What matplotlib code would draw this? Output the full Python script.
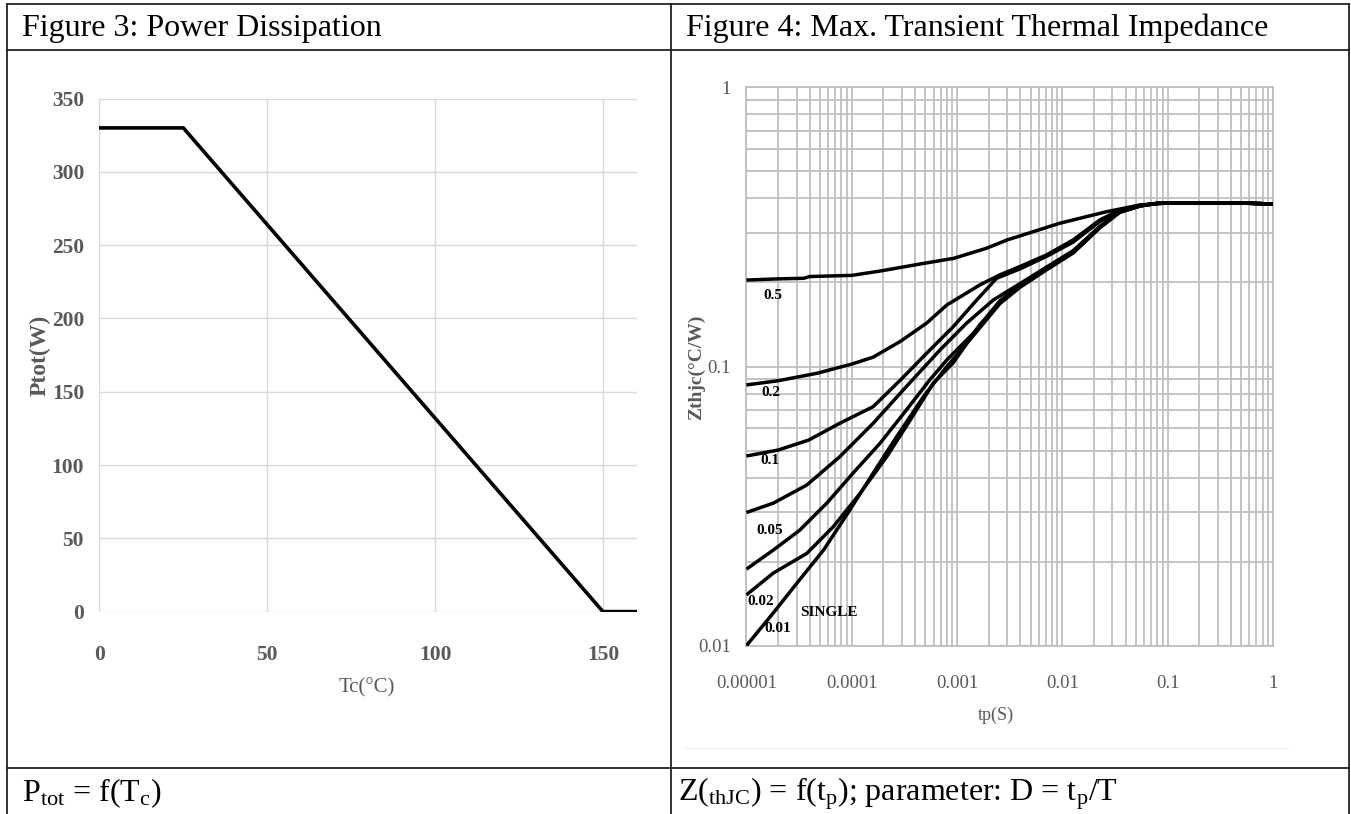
import matplotlib
matplotlib.use("Agg")
import matplotlib.pyplot as plt
from matplotlib.lines import Line2D
from matplotlib.ticker import LogLocator, FixedLocator, NullFormatter, FixedFormatter

plt.rcParams['font.family'] = ['Liberation Serif', 'DejaVu Serif']
plt.rcParams['mathtext.fontset'] = 'custom'
plt.rcParams['mathtext.rm'] = 'Liberation Serif'
plt.rcParams['mathtext.it'] = 'Liberation Serif:italic'
plt.rcParams['mathtext.bf'] = 'Liberation Serif:bold'

# ---------------- Figure 3 data ----------------
tc_values = [0, 25, 150, 160]
ptot_values = [330, 330, 0, 0]
tc_ticks = [0, 50, 100, 150]
ptot_ticks = [0, 50, 100, 150, 200, 250, 300, 350]

# ---------------- Figure 4 data ----------------
tp_d05 = [1e-5, 2e-5, 3.5e-5, 4e-5, 1e-4, 1.9e-4, 4.5e-4, 9.3e-4, 1.9e-3, 3e-3, 9.5e-3, 2.6e-2, 5.5e-2, 0.1, 0.2, 0.5, 1]
z_d05 = [0.204, 0.206, 0.207, 0.210, 0.212, 0.220, 0.233, 0.244, 0.265, 0.284, 0.326, 0.358, 0.379, 0.385, 0.386, 0.385, 0.382]

tp_d02 = [1e-5, 2e-5, 4.7e-5, 1e-4, 1.6e-4, 2.9e-4, 5.15e-4, 8e-4, 1.65e-3, 2.56e-3, 3.96e-3, 7.1e-3, 1.27e-2, 2.28e-2, 3.5e-2, 5.5e-2, 0.08, 0.2, 0.5, 1]
z_d02 = [0.0859, 0.0889, 0.0946, 0.102, 0.108, 0.123, 0.143, 0.166, 0.196, 0.213, 0.228, 0.251, 0.284, 0.335, 0.363, 0.378, 0.384, 0.386, 0.385, 0.382]

tp_d01 = [1e-5, 2e-5, 3.9e-5, 7.7e-5, 1.6e-4, 2.9e-4, 5.15e-4, 9.2e-4, 1.54e-3, 2.38e-3, 4e-3, 7.1e-3, 1.27e-2, 2.28e-2, 3.5e-2, 5.5e-2, 0.08, 0.2, 0.5, 1]
z_d01 = [0.0478, 0.0502, 0.0545, 0.0626, 0.0718, 0.0894, 0.1115, 0.1388, 0.173, 0.207, 0.224, 0.248, 0.279, 0.331, 0.361, 0.377, 0.384, 0.386, 0.385, 0.382]

tp_d005 = [1e-5, 1.8e-5, 3.74e-5, 7.7e-5, 1.6e-4, 3.3e-4, 6.9e-4, 1.23e-3, 2.21e-3, 3.96e-3, 7.1e-3, 1.27e-2, 2.28e-2, 3.5e-2, 5.5e-2, 0.08, 0.2, 0.5, 1]
z_d005 = [0.0300, 0.0324, 0.0376, 0.0475, 0.0626, 0.0847, 0.1146, 0.1428, 0.173, 0.198, 0.227, 0.260, 0.318, 0.358, 0.376, 0.384, 0.386, 0.385, 0.382]

tp_d002 = [1e-5, 1.8e-5, 3.2e-5, 5.8e-5, 1.03e-4, 1.86e-4, 3.3e-4, 5.5e-4, 8e-4, 1.43e-3, 2.56e-3, 3.96e-3, 7.1e-3, 1.27e-2, 2.28e-2, 3.5e-2, 5.5e-2, 0.08, 0.2, 0.5, 1]
z_d002 = [0.0188, 0.0220, 0.0259, 0.0324, 0.0415, 0.0531, 0.0698, 0.0894, 0.1055, 0.1315, 0.172, 0.195, 0.225, 0.257, 0.316, 0.357, 0.376, 0.384, 0.386, 0.385, 0.382]

tp_d001 = [1e-5, 1.8e-5, 3.74e-5, 6.7e-5, 1.2e-4, 2.15e-4, 3.6e-4, 5.95e-4, 9.2e-4, 1.65e-3, 2.56e-3, 3.96e-3, 7.1e-3, 1.27e-2, 2.28e-2, 3.5e-2, 5.5e-2, 0.08, 0.2, 0.5, 1]
z_d001 = [0.0152, 0.0182, 0.0214, 0.0267, 0.0351, 0.0475, 0.0643, 0.0871, 0.103, 0.141, 0.170, 0.193, 0.223, 0.256, 0.315, 0.357, 0.376, 0.384, 0.386, 0.385, 0.382]

tp_single = [1e-5, 1.8e-5, 3e-5, 5.4e-5, 9.6e-5, 1.6e-4, 2.67e-4, 4.8e-4, 8e-4, 1.43e-3, 2.56e-3, 3.96e-3, 7.1e-3, 1.27e-2, 2.28e-2, 3.5e-2, 5.5e-2, 0.08, 0.2, 0.5, 1]
z_single = [0.0100, 0.0131, 0.0167, 0.0220, 0.0306, 0.0415, 0.0560, 0.0779, 0.0998, 0.129, 0.168, 0.192, 0.222, 0.255, 0.314, 0.356, 0.376, 0.384, 0.386, 0.385, 0.382]

curve_label_texts = ["0.5", "0.2", "0.1", "0.05", "0.02", "0.01", "SINGLE"]
curve_label_tp = [1.78e-5, 1.7e-5, 1.67e-5, 1.65e-5, 1.37e-5, 2.0e-5, 6.1e-5]
curve_label_z = [0.180, 0.0804, 0.0462, 0.0258, 0.01434, 0.01157, 0.0132]

tp_ticks = [1e-5, 1e-4, 1e-3, 1e-2, 1e-1, 1]
tp_tick_labels = ["0.00001", "0.0001", "0.001", "0.01", "0.1", "1"]
z_ticks = [0.01, 0.1, 1]
z_tick_labels = ["0.01", "0.1", "1"]

header_left = "Figure 3: Power Dissipation"
header_right = "Figure 4: Max. Transient Thermal Impedance"
footer_left = r"P$_{\mathrm{tot}}$ = f(T$_{\mathrm{c}}$)"
footer_right = r"Z$\mathrm{(_{thJC})}$ = f(t$_{\mathrm{p}}$); parameter: D = t$_{\mathrm{p}}$/T"

# ---------------- Figure ----------------
W, H = 1351, 814
fig = plt.figure(figsize=(W / 100, H / 100), dpi=100)
fig.patch.set_facecolor("white")


def fx(px):
    return px / W


def fy(py):
    return 1 - py / H


# table lines
table_color = "#222222"
for (x0, y0, x1, y1) in [(7, 4, 1349, 4), (7, 50, 1349, 50), (7, 768, 1349, 768),
                         (7, 4, 7, 814), (671, 4, 671, 814), (1349, 4, 1349, 814)]:
    fig.add_artist(Line2D([fx(x0), fx(x1)], [fy(y0), fy(y1)], color=table_color, lw=1.3,
                          transform=fig.transFigure))
# faint chart-area border in right cell
fig.add_artist(Line2D([fx(686), fx(1287)], [fy(748), fy(748)], color="#f0f0f0", lw=1,
                      transform=fig.transFigure))

fig.text(fx(22), fy(36), header_left, fontsize=23, ha="left", va="baseline", color="black")
fig.text(fx(686), fy(36), header_right, fontsize=23, ha="left", va="baseline", color="black")
fig.text(fx(22), fy(801), footer_left, fontsize=23, ha="left", va="baseline", color="black")
fig.text(fx(678), fy(801), footer_right, fontsize=23, ha="left", va="baseline", color="black")

tick_gray = "#595959"

# ---------------- Left chart ----------------
axL = fig.add_axes([fx(99.4), fy(611.6), fx(636.5) - fx(99.4), fy(98.6) - fy(611.6)])
axL.plot(tc_values, ptot_values, color="black", lw=2.6, solid_joinstyle="miter", zorder=3)
axL.set_xlim(0, 160)
axL.set_ylim(0, 350)
axL.set_xticks(tc_ticks)
axL.set_yticks(ptot_ticks)
axL.grid(True, color="#d9d9d9", lw=1.0)
for s in axL.spines.values():
    s.set_visible(False)
axL.tick_params(length=0, labelsize=15.5, colors=tick_gray)
axL.tick_params(axis="x", pad=24)
axL.tick_params(axis="y", pad=11)
for lab in axL.get_xticklabels() + axL.get_yticklabels():
    lab.set_fontweight("bold")
axL.text(-0.111, 0.5, "Ptot(W)", transform=axL.transAxes, rotation=90, ha="center", va="center",
         fontsize=17, fontweight="bold", color=tick_gray)
axL.text(0.498, -0.149, "Tc(°C)", transform=axL.transAxes, ha="center", va="center",
         fontsize=15, color=tick_gray)

# ---------------- Right chart ----------------
axR = fig.add_axes([fx(746.4), fy(645.7), fx(1272.8) - fx(746.4), fy(87.3) - fy(645.7)])
curves = [(tp_d05, z_d05), (tp_d02, z_d02), (tp_d01, z_d01), (tp_d005, z_d005),
          (tp_d002, z_d002), (tp_d001, z_d001), (tp_single, z_single)]
for tp, z in curves:
    axR.plot(tp, z, color="black", lw=2.5, zorder=3, solid_capstyle="butt")
axR.set_xscale("log")
axR.set_yscale("log")
axR.set_xlim(1e-5, 1)
axR.set_ylim(0.01, 1)
axR.xaxis.set_major_locator(FixedLocator(tp_ticks))
axR.xaxis.set_major_formatter(FixedFormatter(tp_tick_labels))
axR.yaxis.set_major_locator(FixedLocator(z_ticks))
axR.yaxis.set_major_formatter(FixedFormatter(z_tick_labels))
axR.xaxis.set_minor_locator(LogLocator(base=10, subs=range(2, 10), numticks=20))
axR.yaxis.set_minor_locator(LogLocator(base=10, subs=range(2, 10), numticks=20))
axR.xaxis.set_minor_formatter(NullFormatter())
axR.yaxis.set_minor_formatter(NullFormatter())
axR.grid(True, which="both", color="#bfbfbf", lw=1.3)
for s in axR.spines.values():
    s.set_color("#bfbfbf")
    s.set_linewidth(1.3)
axR.tick_params(which="both", length=0, labelsize=13.5, colors=tick_gray)
axR.tick_params(axis="x", pad=21)
axR.tick_params(axis="y", pad=11)
for txt, tx, tz in zip(curve_label_texts, curve_label_tp, curve_label_z):
    axR.text(tx, tz, txt, ha="center", va="center", fontsize=11, fontweight="bold",
             color="black", zorder=4)
axR.text(-0.095, 0.499, "Zthjc(°C/W)", transform=axR.transAxes, rotation=90, ha="center",
         va="center", fontsize=14, fontweight="bold", color=tick_gray)
axR.text(0.474, -0.124, "tp(S)", transform=axR.transAxes, ha="center", va="center",
         fontsize=13, color=tick_gray)

fig.savefig("out.png", dpi=100, facecolor="white")
